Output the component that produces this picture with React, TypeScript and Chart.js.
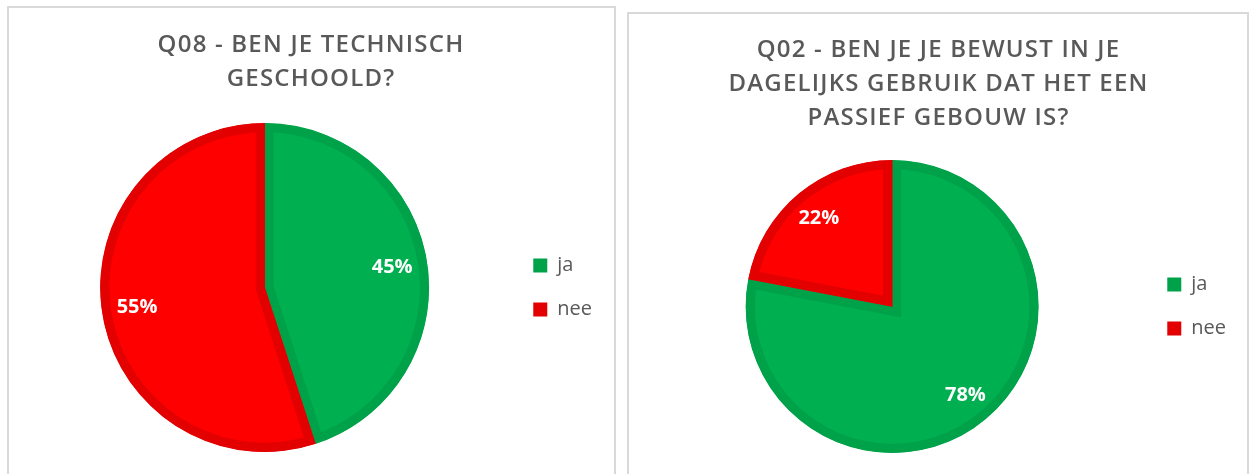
import React, { useEffect, useRef } from 'react';
import { Chart, registerables } from 'chart.js';

Chart.register(...registerables);

// ---- data ----
const categories = ['ja', 'nee'];
const q08Values = [45, 55];
const q02Values = [78, 22];
const q08Title = ['Q08 - BEN JE TECHNISCH', 'GESCHOOLD?'];
const q02Title = ['Q02 - BEN JE JE BEWUST IN JE', 'DAGELIJKS GEBRUIK DAT HET EEN', 'PASSIEF GEBOUW IS?'];

// ---- styles ----
const fillColors = ['#00B050', '#FF0000'];
const borderColors = ['#00A249', '#E20000'];
const textGray = '#595959';
const FONT = "'Open Sans', 'Noto Sans', sans-serif";

const pctLabelPlugin = {
  id: 'pctLabels',
  afterDatasetsDraw(chart: any) {
    const ctx = chart.ctx;
    const meta = chart.getDatasetMeta(0);
    const data: number[] = chart.data.datasets[0].data;
    const total = data.reduce((a, b) => a + b, 0);
    meta.data.forEach((arc: any, i: number) => {
      const p = arc.getProps(['x', 'y', 'startAngle', 'endAngle', 'outerRadius'], true);
      const mid = (p.startAngle + p.endAngle) / 2;
      const r = p.outerRadius * 0.785;
      ctx.save();
      ctx.font = `bold 20px ${FONT}`;
      ctx.fillStyle = '#FFFFFF';
      ctx.textAlign = 'center';
      ctx.textBaseline = 'middle';
      ctx.fillText(Math.round((data[i] / total) * 100) + '%', p.x + Math.cos(mid) * r, p.y + Math.sin(mid) * r);
      ctx.restore();
    });
  },
};

const titleSpacingPlugin = {
  id: 'titleSpacing',
  afterInit(chart: any) {
    const tb = chart.titleBlock;
    if (!tb) return;
    const orig = tb.draw.bind(tb);
    tb.draw = (...args: any[]) => {
      const ctx = chart.ctx;
      ctx.save();
      ctx.letterSpacing = '1.2px';
      orig(...args);
      ctx.restore();
    };
  },
};

type PanelProps = {
  left: number;
  top: number;
  width: number;
  height: number;
  canvasHeight: number;
  title: string[];
  values: number[];
  titlePad: { top: number; bottom: number };
  layoutPad: { left: number; right: number; top: number; bottom: number };
};

function PiePanel(props: PanelProps) {
  const ref = useRef<HTMLCanvasElement | null>(null);
  const innerW = props.width - 4;

  useEffect(() => {
    if (!ref.current) return;
    const chart = new Chart(ref.current, {
      type: 'pie',
      data: {
        labels: categories,
        datasets: [
          {
            data: props.values,
            backgroundColor: fillColors,
            borderColor: borderColors,
            borderWidth: 9,
            borderAlign: 'inner',
            borderJoinStyle: 'miter',
          } as any,
        ],
      },
      options: {
        responsive: false,
        animation: false,
        events: [],
        layout: { padding: props.layoutPad },
        plugins: {
          tooltip: { enabled: false },
          title: {
            display: true,
            text: props.title,
            color: textGray,
            font: { family: FONT, size: 24, weight: '600', lineHeight: '34px' } as any,
            padding: props.titlePad,
          },
          legend: {
            display: true,
            position: 'right',
            fullSize: false,
            labels: {
              boxWidth: 14,
              boxHeight: 14,
              padding: 24,
              color: textGray,
              font: { family: FONT, size: 20 },
              generateLabels: () =>
                categories.map((c, i) => ({
                  text: c,
                  fillStyle: borderColors[i],
                  strokeStyle: borderColors[i],
                  lineWidth: 0,
                  fontColor: textGray,
                  hidden: false,
                  index: i,
                })),
            },
          },
        },
      } as any,
      plugins: [pctLabelPlugin, titleSpacingPlugin],
    });
    chart.draw();
    return () => chart.destroy();
  }, []);

  return (
    <div
      style={{
        position: 'absolute',
        left: props.left,
        top: props.top,
        width: props.width,
        height: props.height,
        border: '2px solid #D9D9D9',
        boxSizing: 'border-box',
        background: '#FFFFFF',
      }}
    >
      <canvas ref={ref} width={innerW} height={props.canvasHeight} style={{ display: 'block' }} />
    </div>
  );
}

export default function App() {
  return (
    <div
      style={{
        position: 'absolute',
        left: 0,
        top: 0,
        width: 1249,
        height: 474,
        overflow: 'hidden',
        background: '#FFFFFF',
      }}
    >
      <PiePanel
        left={7}
        top={6}
        width={609}
        height={490}
        canvasHeight={466}
        title={q08Title}
        values={q08Values}
        titlePad={{ top: 20, bottom: 27 }}
        layoutPad={{ left: 11, right: 12, top: 0, bottom: 22 }}
      />
      <PiePanel
        left={627}
        top={12}
        width={622}
        height={490}
        canvasHeight={460}
        title={q02Title}
        values={q02Values}
        titlePad={{ top: 19, bottom: 25 }}
        layoutPad={{ left: 12, right: 11, top: 0, bottom: 21 }}
      />
    </div>
  );
}
